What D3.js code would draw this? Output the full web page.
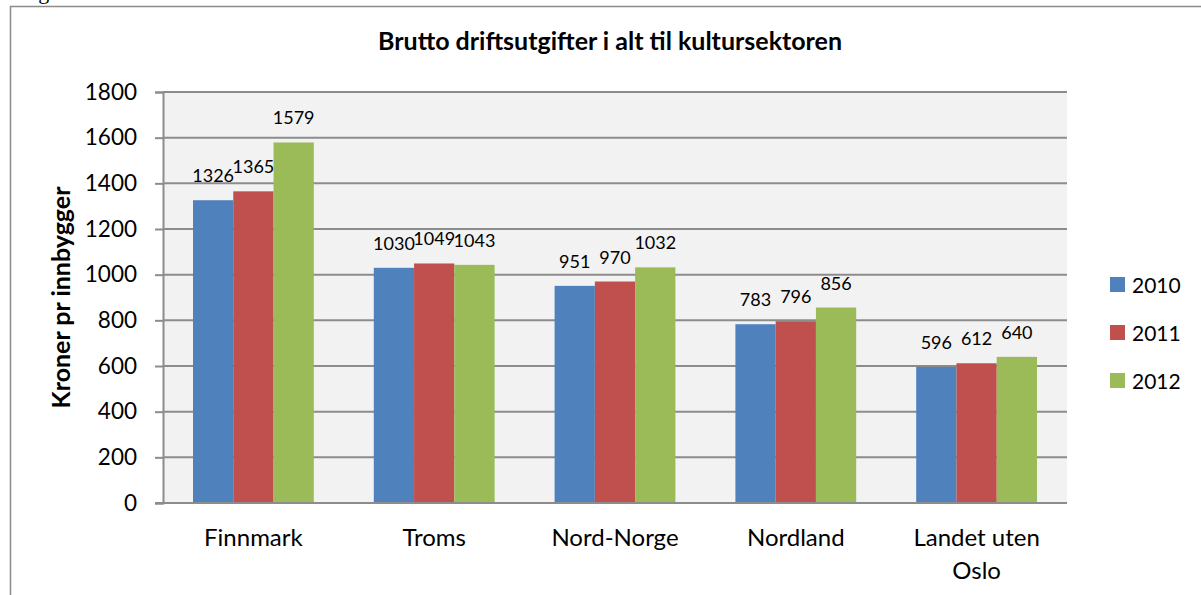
<!DOCTYPE html>
<html>
<head>
<meta charset="utf-8">
<script src="https://cdn.jsdelivr.net/npm/d3@7"></script>
<style>
  html, body { margin: 0; padding: 0; background: #fff; overflow: hidden; }
  svg { display: block; }
  text { font-family: Lato, "Open Sans", sans-serif; fill: #000; }
</style>
</head>
<body>
<svg id="chart" width="1201" height="595"></svg>
<script>
// Brutto driftsutgifter til kultursektoren, kroner per innbygger
const categories = [["Finnmark"], ["Troms"], ["Nord-Norge"], ["Nordland"], ["Landet uten", "Oslo"]];
const years = ["2010", "2011", "2012"];
const values2010 = [1326, 1030, 951, 783, 596];
const values2011 = [1365, 1049, 970, 796, 612];
const values2012 = [1579, 1043, 1032, 856, 640];
const yTicks = [0, 200, 400, 600, 800, 1000, 1200, 1400, 1600, 1800];
const colors = ["#4f81bd", "#c0504d", "#9bbb59"];

const seriesValues = [values2010, values2011, values2012];
const rows = categories.map((c, i) => ({
  key: c.join(" "),
  lines: c,
  vals: years.map((y, j) => ({ year: y, value: seriesValues[j][i], color: colors[j] }))
}));

const svg = d3.select("#chart");

// page caption above the chart frame (only its descender shows)
svg.append("text")
  .attr("x", 20).attr("y", -1)
  .style("font-family", "'Liberation Serif', serif")
  .style("font-size", "22px")
  .text("Figur");

// chart frame
svg.append("rect")
  .attr("x", 10.5).attr("y", 6.5)
  .attr("width", 1220).attr("height", 620)
  .attr("fill", "none").attr("stroke", "#8c8c8c").attr("stroke-width", 1.5);

const plot = { left: 163, right: 1067, top: 92, bottom: 503 };

const gapRatio = 60 / 180.8;
const x0 = d3.scaleBand()
  .domain(rows.map(r => r.key))
  .range([plot.left, plot.right])
  .paddingInner(gapRatio)
  .paddingOuter(gapRatio / 2);

const x1 = d3.scaleBand()
  .domain(years)
  .range([0, x0.bandwidth()])
  .padding(0);

const y = d3.scaleLinear()
  .domain([0, 1800])
  .range([plot.bottom, plot.top]);

// plot area background
svg.append("rect")
  .attr("x", plot.left).attr("y", plot.top)
  .attr("width", plot.right - plot.left)
  .attr("height", plot.bottom - plot.top)
  .attr("fill", "#f2f2f2");

// horizontal gridlines
svg.append("g")
  .selectAll("line")
  .data(yTicks.filter(t => t > 0))
  .join("line")
  .attr("x1", plot.left).attr("x2", plot.right)
  .attr("y1", d => y(d)).attr("y2", d => y(d))
  .attr("stroke", "#8c8c8c").attr("stroke-width", 2);

// y axis
const yAxis = svg.append("g")
  .attr("transform", `translate(${plot.left},0)`)
  .call(d3.axisLeft(y).tickValues(yTicks).tickFormat(d3.format("d")).tickSize(8).tickPadding(18));
yAxis.select(".domain").attr("stroke", "#8c8c8c").attr("stroke-width", 2);
yAxis.selectAll(".tick line").attr("stroke", "#8c8c8c").attr("stroke-width", 2);
yAxis.selectAll(".tick text")
  .style("font-family", "Lato, sans-serif")
  .style("font-size", "22.5px")
  .attr("fill", "#000");

// bars
const groups = svg.append("g")
  .selectAll("g")
  .data(rows)
  .join("g")
  .attr("transform", d => `translate(${x0(d.key)},0)`);

groups.selectAll("rect")
  .data(d => d.vals)
  .join("rect")
  .attr("x", d => x1(d.year))
  .attr("y", d => y(d.value))
  .attr("width", x1.bandwidth())
  .attr("height", d => y(0) - y(d.value))
  .attr("fill", d => d.color);

// value labels
groups.selectAll("text.val")
  .data(d => d.vals)
  .join("text")
  .attr("class", "val")
  .attr("x", d => x1(d.year) + x1.bandwidth() / 2)
  .attr("y", d => y(d.value) - 18)
  .attr("text-anchor", "middle")
  .style("font-size", "18px")
  .text(d => d.value);

// x axis baseline
svg.append("line")
  .attr("x1", plot.left - 8).attr("x2", plot.right)
  .attr("y1", plot.bottom).attr("y2", plot.bottom)
  .attr("stroke", "#8c8c8c").attr("stroke-width", 2);

// category labels
const catLabels = svg.append("g")
  .selectAll("text")
  .data(rows)
  .join("text")
  .attr("text-anchor", "middle")
  .attr("x", d => x0(d.key) + x0.bandwidth() / 2)
  .attr("y", 546)
  .style("font-size", "24px");
catLabels.selectAll("tspan")
  .data(d => d.lines.map(l => ({ l, x: x0(d.key) + x0.bandwidth() / 2 })))
  .join("tspan")
  .attr("x", d => d.x)
  .attr("dy", (d, i) => i === 0 ? 0 : 33)
  .text(d => d.l);

// title
svg.append("text")
  .attr("x", 610).attr("y", 50)
  .attr("text-anchor", "middle")
  .style("font-size", "25px")
  .style("font-weight", "bold")
  .text("Brutto driftsutgifter i alt til kultursektoren");

// y axis title
svg.append("text")
  .attr("transform", `translate(70,${(plot.top + plot.bottom) / 2}) rotate(-90)`)
  .attr("text-anchor", "middle")
  .style("font-size", "25px")
  .style("font-weight", "bold")
  .text("Kroner pr innbygger");

// legend
const legend = svg.append("g")
  .selectAll("g")
  .data(years)
  .join("g")
  .attr("transform", (d, i) => `translate(1110,${277 + i * 48})`);
legend.append("rect")
  .attr("width", 15).attr("height", 15)
  .attr("fill", (d, i) => colors[i]);
legend.append("text")
  .attr("x", 22).attr("y", 16)
  .style("font-size", "21px")
  .text(d => d);
</script>
</body>
</html>
